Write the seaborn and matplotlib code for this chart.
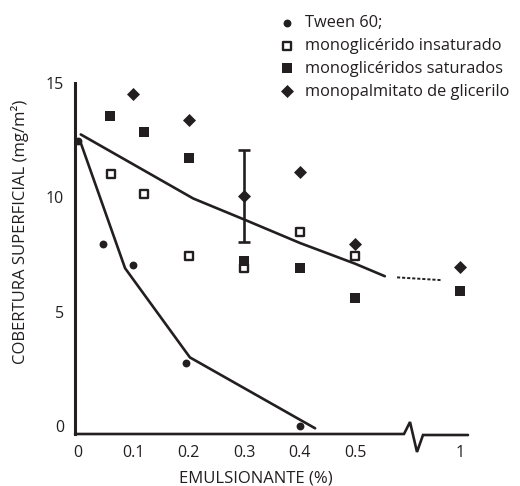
import numpy as np
import matplotlib
matplotlib.use("Agg")
import matplotlib.pyplot as plt
import seaborn as sns

# ---------------- data ----------------
tween_x = [0.0, 0.045, 0.1, 0.195, 0.4]
tween_y = [12.45, 7.95, 7.05, 2.75, 0.0]

insat_x = [0.06, 0.12, 0.2, 0.3, 0.4, 0.5]
insat_y = [11.0, 10.15, 7.45, 6.9, 8.5, 7.45]

sat_x = [0.058, 0.12, 0.2, 0.3, 0.4, 0.5, 1.0]
sat_y = [13.55, 12.85, 11.7, 7.2, 6.9, 5.6, 5.9]

palm_x = [0.1, 0.2, 0.3, 0.4, 0.5, 1.0]
palm_y = [14.5, 13.4, 10.05, 11.1, 7.95, 6.95]
palm_err_x = [0.3]
palm_err_y = [10.05]
palm_err = [2.0]

tween_fit_x = [0.004, 0.085, 0.202, 0.428]
tween_fit_y = [12.45, 6.9, 3.0, -0.1]

mono_fit_x = [0.005, 0.208, 0.298, 0.401, 0.5, 0.642]
mono_fit_y = [12.75, 9.95, 9.05, 8.0, 7.1, 6.55]

dot_fit_x = [0.70, 0.908]
dot_fit_y = [6.5, 6.38]

xticks = [0, 0.1, 0.2, 0.3, 0.4, 0.5, 1.0]
xticklabels = ["0", "0.1", "0.2", "0.3", "0.4", "0.5", "1"]
yticks = [0, 5, 10, 15]
yticklabels = ["0", "5", "10", "15"]

labels = ["Tween 60;", "monoglicérido insaturado",
          "monoglicéridos saturados", "monopalmitato de glicerilo"]

# ---------------- style ----------------
sns.set_style("white")
plt.rcParams["font.family"] = ["Open Sans", "DejaVu Sans"]
INK = "#231f20"
plt.rcParams["text.color"] = INK
plt.rcParams["axes.labelcolor"] = INK
plt.rcParams["xtick.color"] = INK
plt.rcParams["ytick.color"] = INK

W, H = 520, 486
fig = plt.figure(figsize=(W / 100, H / 100), dpi=100)
ax = fig.add_axes([75 / W, (H - 434) / H, 393 / W, 351 / H])

# broken x scale: compress the segment beyond 0.5
K = 0.38
def fwd(x):
    x = np.asarray(x, dtype=float)
    return np.where(x <= 0.5, x, 0.5 + (x - 0.5) * K)
def inv(p):
    p = np.asarray(p, dtype=float)
    return np.where(p <= 0.5, p, 0.5 + (p - 0.5) / K)
ax.set_xscale("function", functions=(fwd, inv))

# ---------------- lines ----------------
sns.lineplot(x=tween_fit_x, y=tween_fit_y, sort=False, estimator=None,
             color=INK, lw=1.9, ax=ax, legend=False)
sns.lineplot(x=mono_fit_x, y=mono_fit_y, sort=False, estimator=None,
             color=INK, lw=1.9, ax=ax, legend=False)
sns.lineplot(x=dot_fit_x, y=dot_fit_y, sort=False, estimator=None,
             color=INK, lw=1.4, ax=ax, legend=False, linestyle=(0, (1.6, 1.0)))

ax.errorbar(palm_err_x, palm_err_y, yerr=palm_err, fmt="none",
            ecolor=INK, elinewidth=1.9, capsize=4.5, capthick=1.9, zorder=3)

# ---------------- points ----------------
sns.scatterplot(x=tween_x, y=tween_y, marker="o", s=32, color=INK,
                edgecolor=INK, linewidth=0, ax=ax, label=labels[0], zorder=4)
sns.scatterplot(x=insat_x, y=insat_y, marker="s", s=34, color="white",
                edgecolor=INK, linewidth=1.7, ax=ax, label=labels[1], zorder=4)
sns.scatterplot(x=sat_x, y=sat_y, marker="s", s=50, color=INK,
                edgecolor=INK, linewidth=0, ax=ax, label=labels[2], zorder=4)
sns.scatterplot(x=palm_x, y=palm_y, marker="D", s=44, color=INK,
                edgecolor=INK, linewidth=0, ax=ax, label=labels[3], zorder=5)

# ---------------- axes ----------------
ax.set_xlim(-0.0054, 1.037)
ax.set_ylim(-0.35, 14.91)
ax.set_xticks(xticks)
ax.set_xticklabels(xticklabels)
ax.set_yticks(yticks)
ax.set_yticklabels(yticklabels)
ax.tick_params(axis="both", length=0, labelsize=11.5)
ax.tick_params(axis="x", pad=8)
ax.tick_params(axis="y", pad=8)

for s in ["top", "right", "bottom"]:
    ax.spines[s].set_visible(False)
ax.spines["left"].set_color(INK)
ax.spines["left"].set_linewidth(2.2)

# bottom axis line with zigzag break (axes fraction coords)
def px2ax(px, py):
    return (px - 75) / 393, (434 - py) / 351
pts = [(75, 434), (404, 434), (410, 422), (417, 452), (423, 435), (468, 435)]
bx, by = zip(*[px2ax(a, b) for a, b in pts])
ax.plot(bx, by, transform=ax.transAxes, color=INK, lw=1.9, clip_on=False,
        solid_joinstyle="miter", zorder=6)

ax.set_xlabel("EMULSIONANTE (%)", fontsize=12)
ax.set_ylabel("COBERTURA SUPERFICIAL (mg/m²)", fontsize=12)
ax.xaxis.set_label_coords(*px2ax(256, 478))
ax.xaxis.label.set_va("center")
ax.yaxis.set_label_coords(*px2ax(20, 232))
ax.yaxis.label.set_va("center")
ax.yaxis.label.set_ha("center")

leg = ax.legend(loc="upper left", bbox_to_anchor=(279 / W, 1 - 15 / H),
                bbox_transform=fig.transFigure, frameon=False, fontsize=11.8,
                handlelength=1.0, handletextpad=0.6, labelspacing=0.42,
                borderpad=0, borderaxespad=0)

fig.savefig("out.png", dpi=100)
